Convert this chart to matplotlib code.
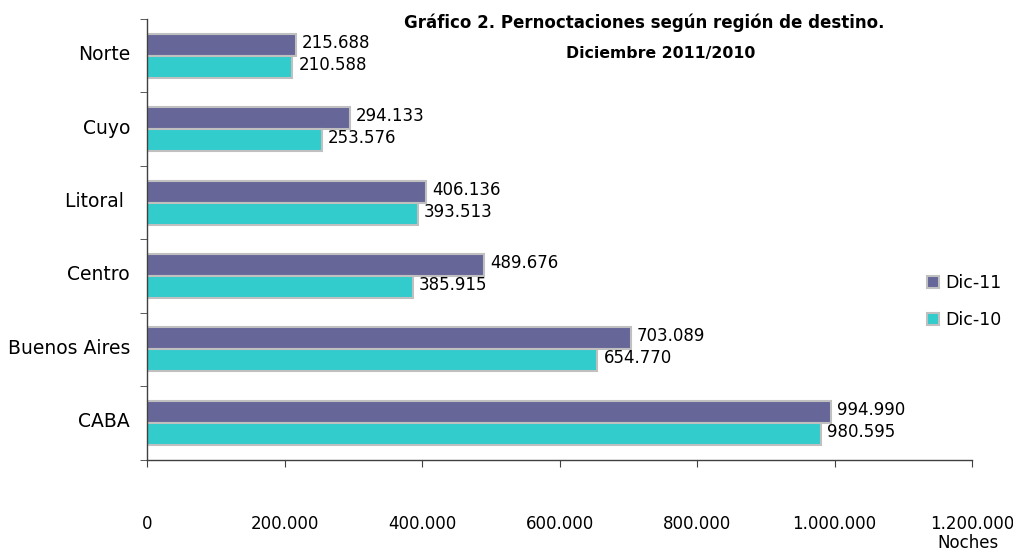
import matplotlib
matplotlib.use("Agg")
import matplotlib.pyplot as plt
import matplotlib.transforms as mt
import numpy as np
from matplotlib.ticker import FuncFormatter, FixedLocator

categories = ["CABA", "Buenos Aires", "Centro", "Litoral ", "Cuyo", "Norte"]
dic11 = [994990, 703089, 489676, 406136, 294133, 215688]
dic10 = [980595, 654770, 385915, 393513, 253576, 210588]
series_names = ["Dic-11", "Dic-10"]
xticks = [0, 200000, 400000, 600000, 800000, 1000000, 1200000]

def fmt(v):
    return f"{int(round(v)):,}".replace(",", ".")

plt.rcParams['font.family'] = ['DejaVu Sans']
fig = plt.figure(figsize=(10.13, 5.5), dpi=100)
ax = fig.add_axes([0.1455, 0.1645, 0.814, 0.801])

y = np.arange(len(categories))
h = 0.30
c11 = "#666699"
c10 = "#33CCCC"
edge = "#C0C0C0"
b11 = ax.barh(y + h / 2, dic11, height=h, color=c11, edgecolor=edge, linewidth=1.5, label=series_names[0])
b10 = ax.barh(y - h / 2, dic10, height=h, color=c10, edgecolor=edge, linewidth=1.5, label=series_names[1])

up = mt.ScaledTranslation(0, 2 / 100, fig.dpi_scale_trans)
for yi, v in zip(y, dic11):
    ax.text(v + 9000, yi + h / 2, fmt(v), va="center", ha="left", fontsize=12,
            transform=ax.transData + up)
for yi, v in zip(y, dic10):
    ax.text(v + 9000, yi - h / 2, fmt(v), va="center", ha="left", fontsize=12,
            transform=ax.transData + up)

ax.set_xlim(0, 1200000)
ax.set_ylim(-0.5, len(categories) - 0.5)
ax.xaxis.set_major_locator(FixedLocator(xticks))
ax.xaxis.set_major_formatter(FuncFormatter(lambda v, p: fmt(v)))
ax.tick_params(axis="x", direction="out", length=5, pad=35, labelsize=12, color="#404040")

ax.set_yticks(y)
ax.set_yticklabels(categories)
ax.tick_params(axis="y", which="major", length=0, pad=12.5, labelsize=13.5)
ax.set_yticks(np.arange(-0.5, len(categories)), minor=True)
ax.tick_params(axis="y", which="minor", length=5, direction="out", color="#404040")
off = mt.ScaledTranslation(0, 3 / 100, fig.dpi_scale_trans)
for lab in ax.get_yticklabels():
    lab.set_transform(lab.get_transform() + off)

for s in ["top", "right"]:
    ax.spines[s].set_visible(False)
for s in ["left", "bottom"]:
    ax.spines[s].set_color("#404040")
    ax.spines[s].set_linewidth(1)

fig.text(0.636, 0.958, "Gráfico 2. Pernoctaciones según región de destino.", ha="center", va="center",
         fontsize=12, fontweight="bold")
fig.text(0.652, 0.903, "Diciembre 2011/2010", ha="center", va="center", fontsize=11.3, fontweight="bold")
fig.text(0.9555, 0.0127, "Noches", ha="center", va="center", fontsize=12)

leg = ax.legend(handles=[b11, b10], loc="center left", bbox_to_anchor=(0.945, 0.309, 0.1, 0.1),
                frameon=False, fontsize=12.5, handlelength=0.7, handleheight=0.7, handletextpad=0.4,
                labelspacing=1.1, borderaxespad=0, borderpad=0)

fig.savefig("out.png", dpi=100)
